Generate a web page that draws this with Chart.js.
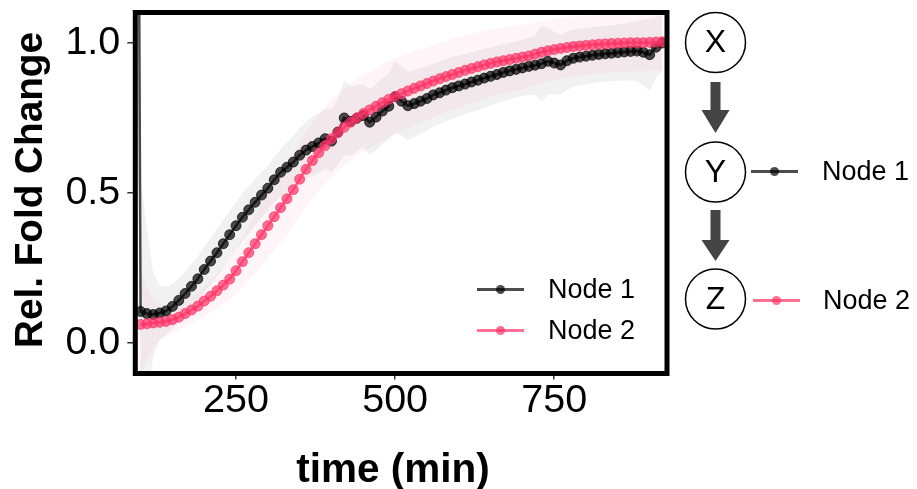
<!DOCTYPE html>
<html>
<head>
<meta charset="utf-8">
<script src="https://cdn.jsdelivr.net/npm/chart.js@4.4.1/dist/chart.umd.min.js"></script>
<style>
  html, body { margin: 0; padding: 0; background: #fff; }
  canvas { display: block; }
</style>
</head>
<body>
<canvas id="c" width="917" height="489"></canvas>
<script>
// ---- data ----
const time = [100,110,120,130,140,150,160,170,180,190,200,210,220,230,240,250,260,270,280,290,
  300,310,320,330,340,350,360,370,380,390,400,410,420,430,440,450,460,470,480,490,
  500,510,520,530,540,550,560,570,580,590,600,610,620,630,640,650,660,670,680,690,
  700,710,720,730,740,750,760,770,780,790,800,810,820,830,840,850,860,870,880,890,
  900,910,920];

// Node 1 has one extra early sample (a transient spike) before the regular series
const node1EarlyTime = [94];
const node1EarlyValue = [3.0];
const node1EarlySd = [2.0];

const node1 = [0.104,0.097,0.094,0.099,0.106,0.121,0.141,0.164,0.188,0.213,0.244,0.272,0.300,0.330,0.360,0.390,0.418,0.443,0.468,0.492,
  0.515,0.543,0.568,0.585,0.602,0.625,0.642,0.654,0.666,0.680,0.672,0.702,0.749,0.738,0.748,0.757,0.735,0.752,0.772,0.788,
  0.820,0.805,0.790,0.797,0.805,0.814,0.826,0.833,0.842,0.850,0.856,0.862,0.869,0.875,0.882,0.888,0.894,0.901,0.906,0.911,
  0.916,0.921,0.925,0.930,0.938,0.932,0.926,0.940,0.948,0.952,0.955,0.958,0.961,0.963,0.965,0.967,0.969,0.971,0.972,0.968,
  0.960,0.985,0.999];

const node2 = [0.061,0.063,0.066,0.068,0.071,0.077,0.085,0.097,0.109,0.122,0.139,0.155,0.173,0.192,0.212,0.240,0.270,0.300,0.330,0.360,
  0.390,0.420,0.450,0.480,0.510,0.545,0.578,0.607,0.633,0.657,0.680,0.700,0.718,0.735,0.750,0.764,0.776,0.788,0.800,0.811,
  0.821,0.830,0.839,0.848,0.856,0.864,0.872,0.880,0.887,0.894,0.901,0.908,0.914,0.920,0.926,0.931,0.936,0.940,0.944,0.948,
  0.952,0.956,0.962,0.968,0.973,0.977,0.981,0.984,0.987,0.989,0.991,0.993,0.995,0.996,0.997,0.998,0.999,1.000,1.000,1.000,
  1.001,1.002,1.003];

const node1Sd = [0.45,0.28,0.14,0.09,0.08,0.075,0.075,0.075,0.075,0.075,0.075,0.078,0.08,0.08,0.08,0.08,0.08,0.08,0.078,0.076,
  0.075,0.075,0.078,0.082,0.086,0.09,0.094,0.098,0.10,0.10,0.105,0.11,0.125,0.115,0.11,0.105,0.11,0.11,0.11,0.11,
  0.12,0.115,0.115,0.112,0.11,0.108,0.105,0.105,0.104,0.103,0.102,0.10,0.10,0.10,0.098,0.097,0.096,0.095,0.095,0.094,
  0.094,0.095,0.10,0.125,0.11,0.105,0.10,0.098,0.096,0.095,0.094,0.094,0.093,0.093,0.093,0.094,0.095,0.097,0.10,0.11,
  0.12,0.10,0.095];

const node2Sd = [0.18,0.12,0.08,0.06,0.05,0.045,0.042,0.042,0.044,0.047,0.05,0.053,0.057,0.062,0.068,0.075,0.082,0.09,0.097,0.103,
  0.108,0.112,0.115,0.118,0.12,0.122,0.124,0.125,0.126,0.127,0.128,0.128,0.128,0.128,0.128,0.128,0.128,0.128,0.128,0.128,
  0.127,0.126,0.125,0.124,0.123,0.122,0.121,0.12,0.119,0.118,0.117,0.116,0.115,0.114,0.113,0.112,0.111,0.11,0.109,0.108,
  0.107,0.106,0.105,0.104,0.103,0.102,0.101,0.10,0.10,0.099,0.099,0.098,0.098,0.097,0.097,0.096,0.096,0.095,0.095,0.095,
  0.094,0.094,0.094];

const xTicks = [250, 500, 750];
const yTicks = [0, 0.5, 1.0];
const seriesNames = ['Node 1', 'Node 2'];
const diagramNodes = ['X', 'Y', 'Z'];
const xTitle = 'time (min)';
const yTitle = 'Rel. Fold Change';

// ---- styles ----
const FONT = '"Liberation Sans", Arial, sans-serif';
const C1 = 'rgba(0,0,0,0.7)';
const C2 = 'rgba(255,51,102,0.7)';
const BAND1 = 'rgba(0,0,0,0.055)';
const BAND2 = 'rgba(255,51,102,0.055)';

// ---- build point lists ----
const t1 = node1EarlyTime.concat(time);
const v1 = node1EarlyValue.concat(node1);
const s1 = node1EarlySd.concat(node1Sd);
const pts1 = t1.map((t, i) => ({x: t, y: v1[i]}));
const hi1 = t1.map((t, i) => ({x: t, y: v1[i] + s1[i]}));
const lo1 = t1.map((t, i) => ({x: t, y: v1[i] - s1[i]}));
const pts2 = time.map((t, i) => ({x: t, y: node2[i]}));
const hi2 = time.map((t, i) => ({x: t, y: node2[i] + node2Sd[i]}));
const lo2 = time.map((t, i) => ({x: t, y: node2[i] - node2Sd[i]}));

function lineDs(label, data, color, order) {
  return {label, data, borderColor: color, backgroundColor: color,
    pointBackgroundColor: color, pointBorderColor: color, pointBorderWidth: 1,
    pointRadius: 5, borderWidth: 2.5, tension: 0, fill: false, order, clip: 0};
}
function bandDs(label, data, color, fillTarget, order) {
  return {label, data, borderColor: 'transparent', borderWidth: 0, pointRadius: 0,
    backgroundColor: color, fill: fillTarget === null ? false : {target: fillTarget, above: color, below: color},
    tension: 0, order, clip: 0};
}

const framePlugin = {
  id: 'frame',
  afterDraw(chart) {
    const ctx = chart.ctx;
    const a = chart.chartArea;
    ctx.save();
    ctx.strokeStyle = '#000';
    ctx.lineWidth = 5;
    ctx.strokeRect(a.left, a.top, a.right - a.left, a.bottom - a.top);

    // axis titles
    ctx.fillStyle = '#000';
    ctx.textAlign = 'center';
    ctx.textBaseline = 'alphabetic';
    ctx.font = 'bold 40.5px ' + FONT;
    ctx.fillText(xTitle, 393, 481.5);
    ctx.save();
    ctx.translate(41.7, 190);
    ctx.rotate(-Math.PI / 2);
    ctx.font = 'bold 38.7px ' + FONT;
    ctx.fillText(yTitle, 0, 0);
    ctx.restore();

    // legend inside the plot
    function legendEntry(x0, x1, y, color, text, tx, size) {
      ctx.strokeStyle = color;
      ctx.lineWidth = 3;
      ctx.beginPath(); ctx.moveTo(x0, y); ctx.lineTo(x1, y); ctx.stroke();
      ctx.fillStyle = color;
      ctx.beginPath(); ctx.arc((x0 + x1) / 2, y, 4.5, 0, Math.PI * 2); ctx.fill();
      ctx.fillStyle = '#000';
      ctx.font = size + 'px ' + FONT;
      ctx.textAlign = 'left';
      ctx.textBaseline = 'middle';
      ctx.fillText(text, tx, y + 1);
    }
    legendEntry(477, 524, 289.5, C1, seriesNames[0], 548, 27);
    legendEntry(477, 524, 330.5, C2, seriesNames[1], 548, 27);

    // network diagram on the right
    const cx = 715.5;
    const cys = [42.5, 172, 299];
    ctx.lineWidth = 1.5;
    ctx.strokeStyle = '#000';
    cys.forEach((cy, i) => {
      ctx.beginPath(); ctx.arc(cx, cy, 30, 0, Math.PI * 2);
      ctx.fillStyle = '#fff'; ctx.fill(); ctx.stroke();
      ctx.fillStyle = '#000';
      ctx.font = '32px ' + FONT;
      ctx.textAlign = 'center';
      ctx.textBaseline = 'middle';
      ctx.fillText(diagramNodes[i], cx, cy + 1);
    });
    function arrow(yTop, yBase, yTip) {
      ctx.fillStyle = '#444';
      ctx.fillRect(cx - 5, yTop, 10, yBase - yTop + 0.5);
      ctx.beginPath();
      ctx.moveTo(cx - 14, yBase); ctx.lineTo(cx + 14, yBase); ctx.lineTo(cx, yTip);
      ctx.closePath(); ctx.fill();
    }
    arrow(82, 110, 133);
    arrow(210, 240, 261);
    legendEntry(751, 798, 171.5, C1, seriesNames[0], 822, 27);
    legendEntry(753, 800, 300.5, C2, seriesNames[1], 823, 27);
    ctx.restore();
  }
};

new Chart(document.getElementById('c').getContext('2d'), {
  type: 'line',
  data: {
    datasets: [
      lineDs(seriesNames[1], pts2, C2, 0),
      lineDs(seriesNames[0], pts1, C1, 1),
      bandDs('Node 2 upper', hi2, BAND2, 3, 2),
      bandDs('Node 2 lower', lo2, BAND2, null, 3),
      bandDs('Node 1 upper', hi1, BAND1, 5, 4),
      bandDs('Node 1 lower', lo1, BAND1, null, 5)
    ]
  },
  options: {
    responsive: false,
    animation: false,
    devicePixelRatio: 1,
    layout: { padding: { top: 12.5, right: 250, left: 0, bottom: 0 } },
    plugins: { legend: { display: false }, tooltip: { enabled: false } },
    scales: {
      x: {
        type: 'linear', min: 91.7, max: 927.2,
        afterFit(s) { s.height = 115.5; s.paddingLeft = 0; s.paddingRight = 0; },
        afterBuildTicks(s) { s.ticks = xTicks.map(v => ({value: v})); },
        ticks: { font: { family: FONT, size: 39.5 }, color: '#000', padding: -2, maxRotation: 0, autoSkip: false,
          callback: v => String(v) },
        grid: { display: true, drawOnChartArea: false, drawTicks: true, tickLength: 6, color: '#333', lineWidth: 1.5 },
        border: { display: false },
        title: { display: false }
      },
      y: {
        type: 'linear', min: -0.1026, max: 1.1006,
        afterFit(s) { s.width = 135.3; s.paddingTop = 0; s.paddingBottom = 0; },
        afterBuildTicks(s) { s.ticks = yTicks.map(v => ({value: v})); },
        ticks: { font: { family: FONT, size: 39.5 }, color: '#000', padding: 7, autoSkip: false,
          callback: v => Number(v).toFixed(1) },
        grid: { display: true, drawOnChartArea: false, drawTicks: true, tickLength: 8, color: '#333', lineWidth: 1.5 },
        border: { display: false },
        title: { display: false }
      }
    }
  },
  plugins: [framePlugin]
});
</script>
</body>
</html>
